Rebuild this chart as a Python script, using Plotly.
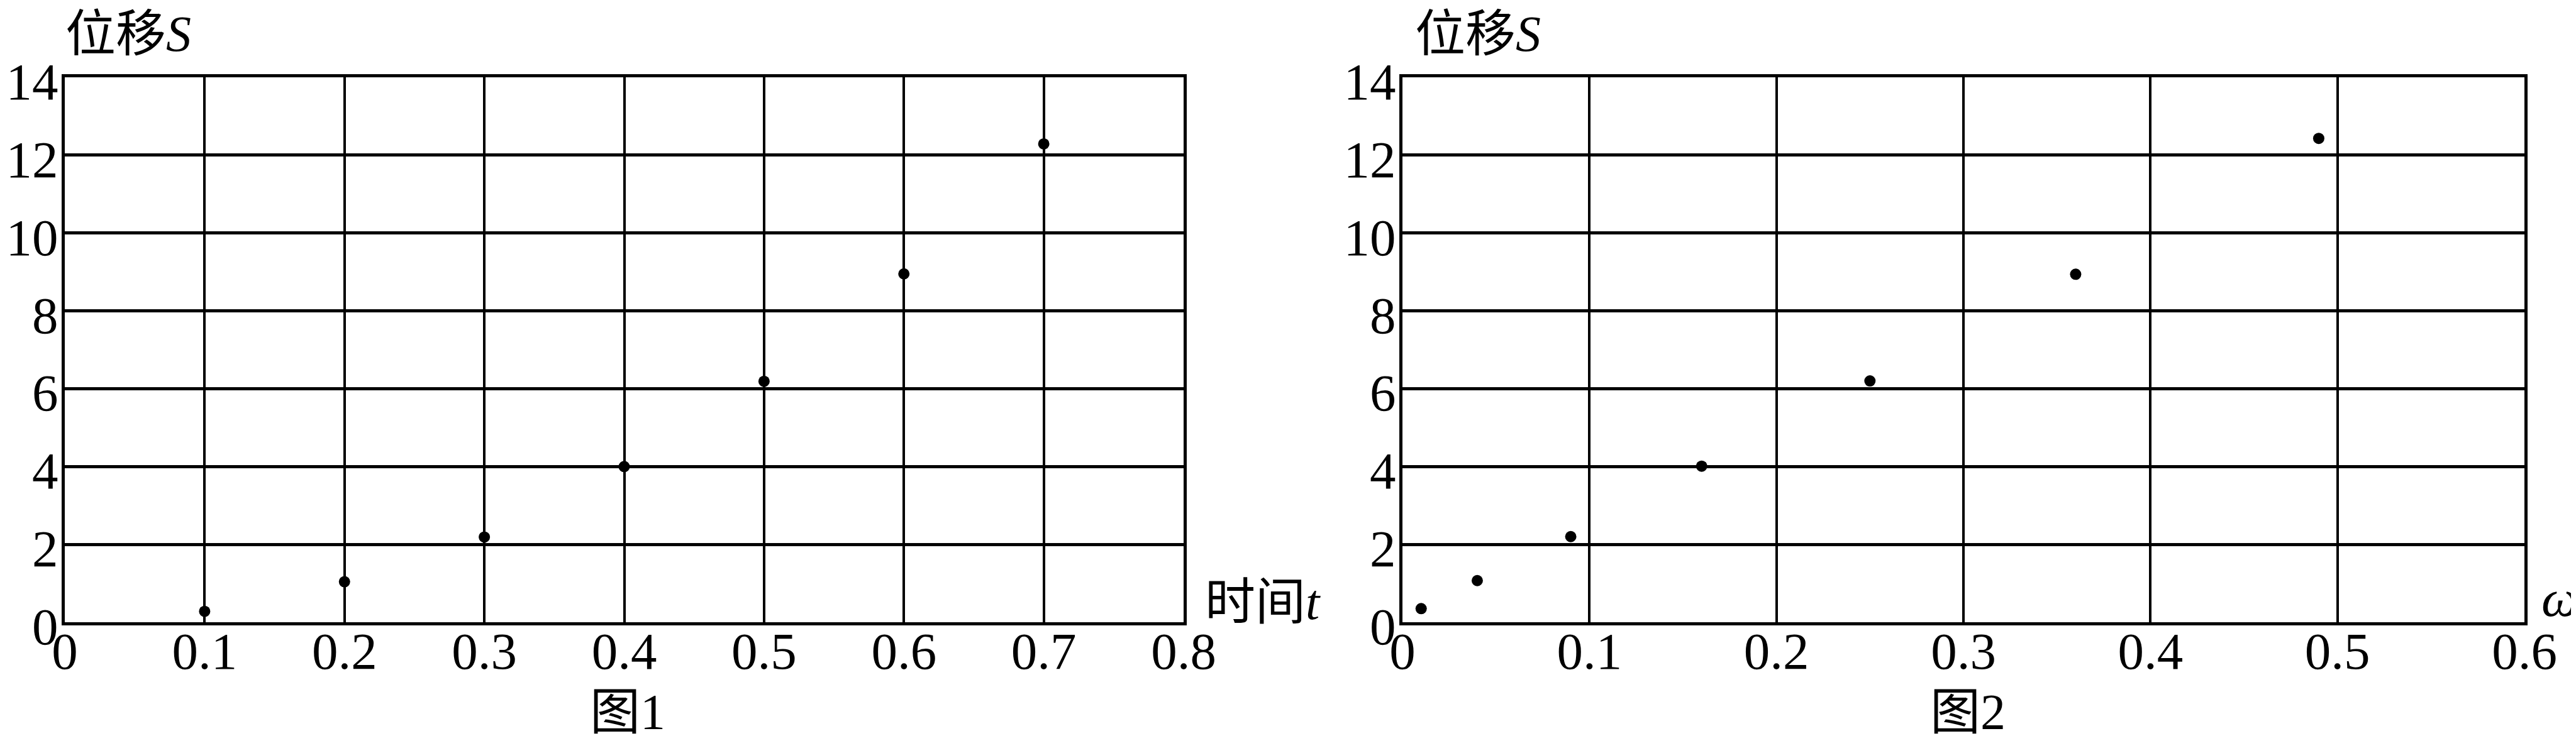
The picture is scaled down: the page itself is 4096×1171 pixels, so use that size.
import plotly.graph_objects as go

# ---- data ----
t_vals = [0.1, 0.2, 0.3, 0.4, 0.5, 0.6, 0.7]
s_fig1 = [0.28, 1.04, 2.19, 4.0, 6.19, 8.95, 12.29]
w_vals = [0.01, 0.04, 0.09, 0.16, 0.25, 0.36, 0.49]
s_fig2 = [0.35, 1.07, 2.2, 4.01, 6.2, 8.94, 12.43]

x1_ticks = [0, 0.1, 0.2, 0.3, 0.4, 0.5, 0.6, 0.7, 0.8]
x1_text = ["0", "0.1", "0.2", "0.3", "0.4", "0.5", "0.6", "0.7", "0.8"]
x2_ticks = [0, 0.1, 0.2, 0.3, 0.4, 0.5, 0.6]
x2_text = ["0", "0.1", "0.2", "0.3", "0.4", "0.5", "0.6"]
y_ticks = [0, 2, 4, 6, 8, 10, 12, 14]
y_text = ["0", "2", "4", "6", "8", "10", "12", "14"]

W, H = 4096, 1171
FONT = "Liberation Serif, Times New Roman, Noto Sans CJK SC, serif"
FS = 83
FS_CJK = 80

fig = go.Figure()
fig.add_trace(go.Scatter(x=t_vals, y=s_fig1, mode="markers",
                         marker=dict(color="black", size=18),
                         xaxis="x", yaxis="y", showlegend=False, cliponaxis=False))
fig.add_trace(go.Scatter(x=w_vals, y=s_fig2, mode="markers",
                         marker=dict(color="black", size=18),
                         xaxis="x2", yaxis="y2", showlegend=False, cliponaxis=False))

ydom = [1 - 982 / H, 1 - 115 / H]
xdom1 = [95 / W, 1874 / W]
xdom2 = [2222 / W, 4006 / W]

common_x = dict(showgrid=True, gridcolor="black", gridwidth=3.5,
                showline=True, linecolor="black", linewidth=5, mirror=True,
                zeroline=False, ticks="", automargin=False,
                tickfont=dict(family=FONT, size=FS, color="black"),
                ticklabelstandoff=-31)
common_y = dict(showgrid=True, gridcolor="black", gridwidth=4.5,
                showline=True, linecolor="black", linewidth=5, mirror=True,
                zeroline=False, ticks="", automargin=False,
                tickfont=dict(family=FONT, size=FS, color="black"),
                ticklabelstandoff=-11, ticklabelshift=6,
                range=[0, 14], tickvals=y_ticks, ticktext=y_text,
                domain=ydom)

fig.update_layout(
    width=W, height=H,
    margin=dict(l=0, r=0, t=0, b=0, autoexpand=False),
    paper_bgcolor="white", plot_bgcolor="white",
    xaxis=dict(common_x, domain=xdom1, range=[0, 0.8], tickvals=x1_ticks, ticktext=x1_text, anchor="y"),
    yaxis=dict(common_y, anchor="x"),
    xaxis2=dict(common_x, domain=xdom2, range=[0, 0.6], tickvals=x2_ticks, ticktext=x2_text, anchor="y2"),
    yaxis2=dict(common_y, anchor="x2"),
)

def px_x(p):
    return p / W

def px_y(p):
    return 1 - p / H

annots = [
    dict(text="位移<i>S</i>", x=px_x(94), y=1, xanchor="left", yanchor="top", size=FS_CJK),
    dict(text="位移<i>S</i>", x=px_x(2240), y=1, xanchor="left", yanchor="top", size=FS_CJK),
    dict(text="时间<i>t</i>", x=px_x(1906), y=px_y(950), xanchor="left", yanchor="middle", size=FS_CJK),
    dict(text="<i>ω</i>", x=px_x(4094), y=px_y(944), xanchor="right", yanchor="middle", size=FS),
    dict(text="图1", x=px_x(990), y=0, xanchor="center", yanchor="bottom", size=FS_CJK),
    dict(text="图2", x=px_x(3121), y=0, xanchor="center", yanchor="bottom", size=FS_CJK),
]
for a in annots:
    sz = a.pop("size")
    fig.add_annotation(xref="paper", yref="paper", showarrow=False,
                       font=dict(family=FONT, size=sz, color="black"), **a)

fig.write_html("out.html")
